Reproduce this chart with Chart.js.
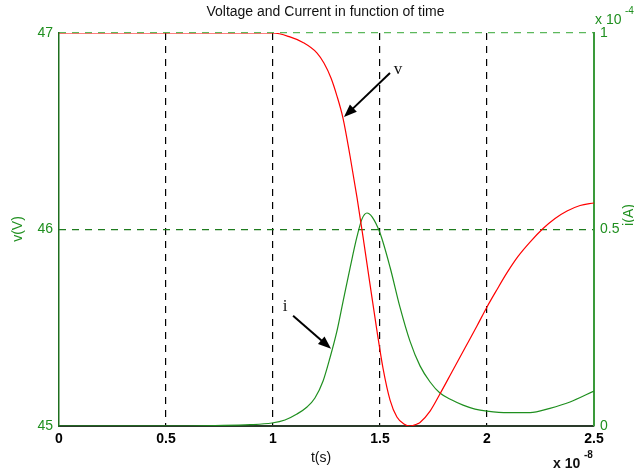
<!DOCTYPE html>
<html>
<head>
<meta charset="utf-8">
<script src="https://cdn.jsdelivr.net/npm/chart.js@4.4.0/dist/chart.umd.min.js"></script>
<style>
  body { margin: 0; background: #fff; }
</style>
</head>
<body>
<canvas id="canvas" width="634" height="472"></canvas>
<script>
// time in units of 1e-8 s (axis multiplier shown as "x 10^-8")
var voltTime = [0, 0.5, 0.9, 1.0, 1.079, 1.14, 1.206, 1.238, 1.271, 1.299, 1.327, 1.36, 1.393, 1.425, 1.453,
                1.486, 1.514, 1.547, 1.579, 1.612, 1.64, 1.673, 1.687, 1.734, 1.78, 1.836, 1.897, 1.953, 2.0,
                2.047, 2.093, 2.145, 2.201, 2.262, 2.318, 2.374, 2.435, 2.5];
// voltage v(V)
var voltData = [47, 47, 47, 47, 46.98, 46.952, 46.898, 46.847, 46.771, 46.679, 46.567, 46.374, 46.16, 45.931, 45.723,
                45.483, 45.295, 45.132, 45.046, 45.01, 45.0, 45.01, 45.018, 45.076, 45.163, 45.275, 45.397, 45.509, 45.606,
                45.695, 45.779, 45.863, 45.936, 46.005, 46.056, 46.094, 46.122, 46.135];

var currTime = [0, 0.5, 0.729, 0.893, 0.995, 1.056, 1.112, 1.159, 1.196, 1.234, 1.266, 1.299, 1.327, 1.36, 1.393,
                1.416, 1.439, 1.463, 1.5, 1.547, 1.593, 1.64, 1.687, 1.734, 1.78, 1.836, 1.888, 1.944, 2.0,
                2.098, 2.201, 2.294, 2.388, 2.5];
// current i(A) in units of 1e-4 A (axis multiplier "x 10^-4")
var currData = [0, 0, 0.0013, 0.0033, 0.0076, 0.0153, 0.0305, 0.0483, 0.0712, 0.1145, 0.173, 0.242, 0.316, 0.402, 0.483,
                0.527, 0.542, 0.532, 0.491, 0.404, 0.303, 0.216, 0.153, 0.112, 0.084, 0.066, 0.053, 0.043, 0.038,
                0.034, 0.034, 0.045, 0.061, 0.089];

var xTicks = [0, 0.5, 1, 1.5, 2, 2.5];
var vTicks = [45, 46, 47];
var iTicks = [0, 0.5, 1];

// arrow annotations: label and the time where the arrow touches its curve
var noteLabels = ["v", "i"];
var noteTimes = [1.327, 1.276];

var green = "#1f8f1f";

function points(ts, ys) {
    var out = [];
    for (var k = 0; k < ts.length; k++) out.push({x: ts[k], y: ys[k]});
    return out;
}

function valueAt(ts, ys, t) {
    for (var k = 1; k < ts.length; k++) {
        if (t <= ts[k]) {
            var f = (t - ts[k - 1]) / (ts[k] - ts[k - 1]);
            return ys[k - 1] + f * (ys[k] - ys[k - 1]);
        }
    }
    return ys[ys.length - 1];
}

function arrow(ctx, x1, y1, x2, y2) {
    var a = Math.atan2(y2 - y1, x2 - x1);
    var hl = 13, hw = 5;
    ctx.save();
    ctx.strokeStyle = "#000";
    ctx.fillStyle = "#000";
    ctx.lineWidth = 2;
    ctx.beginPath();
    ctx.moveTo(x1, y1);
    ctx.lineTo(x2 - Math.cos(a) * hl * 0.8, y2 - Math.sin(a) * hl * 0.8);
    ctx.stroke();
    ctx.beginPath();
    ctx.moveTo(x2, y2);
    ctx.lineTo(x2 - Math.cos(a) * hl + Math.sin(a) * hw, y2 - Math.sin(a) * hl - Math.cos(a) * hw);
    ctx.lineTo(x2 - Math.cos(a) * hl - Math.sin(a) * hw, y2 - Math.sin(a) * hl + Math.cos(a) * hw);
    ctx.closePath();
    ctx.fill();
    ctx.restore();
}

var textPlugin = {
    id: "textPlugin",
    afterDraw: function(chart) {
        var ctx = chart.ctx;
        var a = chart.chartArea;
        var sx = chart.scales.x, sv = chart.scales.yV, si = chart.scales.yI;
        ctx.save();
        ctx.textAlign = "center";
        ctx.textBaseline = "middle";
        // title
        ctx.fillStyle = "#111";
        ctx.font = "14px 'Liberation Sans', Arial, sans-serif";
        ctx.fillText("Voltage and Current in function of time", (a.left + a.right) / 2 - 1, 12);
        // x label
        ctx.fillText("t(s)", 321, 458);
        // x multiplier
        ctx.textAlign = "left";
        ctx.font = "bold 14px 'Liberation Sans', Arial, sans-serif";
        ctx.fillText("x 10", 553, 464);
        ctx.font = "bold 10px 'Liberation Sans', Arial, sans-serif";
        ctx.fillText("-8", 584, 455);
        // right multiplier
        ctx.fillStyle = green;
        ctx.font = "14px 'Liberation Sans', Arial, sans-serif";
        ctx.fillText("x 10", 595, 20);
        ctx.font = "10px 'Liberation Sans', Arial, sans-serif";
        ctx.fillText("-4", 625, 11);
        // y labels
        ctx.font = "14px 'Liberation Sans', Arial, sans-serif";
        ctx.textAlign = "center";
        ctx.save();
        ctx.translate(18, 229);
        ctx.rotate(-Math.PI / 2);
        ctx.fillText("v(V)", 0, 0);
        ctx.restore();
        ctx.save();
        ctx.translate(629, 215);
        ctx.rotate(-Math.PI / 2);
        ctx.fillText("i(A)", 0, 0);
        ctx.restore();

        // annotations
        var vx = sx.getPixelForValue(noteTimes[0]);
        var vy = sv.getPixelForValue(valueAt(voltTime, voltData, noteTimes[0]));
        arrow(ctx, vx + 47, vy - 45, vx + 1, vy - 1);
        var ix = sx.getPixelForValue(noteTimes[1]);
        var iy = si.getPixelForValue(valueAt(currTime, currData, noteTimes[1]));
        arrow(ctx, ix - 39, iy - 34, ix - 1, iy - 1);
        ctx.fillStyle = "#111";
        ctx.font = "17px 'Liberation Serif', 'Times New Roman', serif";
        ctx.fillText(noteLabels[0], vx + 55, vy - 49);
        ctx.fillText(noteLabels[1], ix - 47, iy - 43);
        ctx.restore();
    }
};

function plainTick(v) { return String(v); }

var ctx = document.getElementById("canvas").getContext("2d");
var chart = new Chart(ctx, {
    type: "line",
    data: {
        datasets: [
            {
                label: "v",
                data: points(voltTime, voltData),
                yAxisID: "yV",
                borderColor: "#ff0000",
                borderWidth: 1.2,
                pointRadius: 0,
                cubicInterpolationMode: "monotone",
                fill: false
            },
            {
                label: "i",
                data: points(currTime, currData),
                yAxisID: "yI",
                borderColor: "#1f8f1f",
                borderWidth: 1.2,
                pointRadius: 0,
                cubicInterpolationMode: "monotone",
                fill: false
            }
        ]
    },
    plugins: [textPlugin],
    options: {
        responsive: false,
        animation: false,
        events: [],
        layout: { padding: { top: 33, left: 0, right: 0, bottom: 0 } },
        plugins: { legend: { display: false }, title: { display: false }, tooltip: { enabled: false } },
        scales: {
            x: {
                type: "linear",
                min: 0, max: 2.5,
                afterBuildTicks: function(s) { s.ticks = xTicks.map(function(v) { return {value: v}; }); },
                afterFit: function(s) { s.height = 46; },
                ticks: {
                    color: "#000",
                    padding: 5,
                    maxRotation: 0,
                    callback: plainTick,
                    font: { family: "'Liberation Sans', Arial, sans-serif", size: 14, weight: "bold" }
                },
                grid: {
                    drawTicks: false,
                    lineWidth: 1.2,
                    color: function(c) {
                        return (c.tick && (c.tick.value === 0 || c.tick.value === 2.5)) ? "rgba(0,0,0,0)" : "#000";
                    }
                },
                border: { display: true, color: "#2a3a2a", width: 2, dash: [7, 6] }
            },
            yV: {
                type: "linear",
                position: "left",
                min: 45, max: 47,
                afterBuildTicks: function(s) { s.ticks = vTicks.map(function(v) { return {value: v}; }); },
                afterFit: function(s) { s.width = 59; },
                ticks: {
                    color: green,
                    padding: 6,
                    callback: plainTick,
                    font: { family: "'Liberation Sans', Arial, sans-serif", size: 14 }
                },
                grid: { display: false, drawTicks: false },
                border: { display: true, color: "#1e6e1e", width: 1.5 }
            },
            yI: {
                type: "linear",
                position: "right",
                min: 0, max: 1,
                afterBuildTicks: function(s) { s.ticks = iTicks.map(function(v) { return {value: v}; }); },
                afterFit: function(s) { s.width = 40; },
                ticks: {
                    color: green,
                    padding: 6,
                    callback: plainTick,
                    font: { family: "'Liberation Sans', Arial, sans-serif", size: 14 }
                },
                grid: {
                    drawTicks: false,
                    lineWidth: 1.2,
                    color: function(c) {
                        if (!c.tick || c.tick.value === 0) return "rgba(0,0,0,0)";
                        return c.tick.value === 1 ? "#5cb85c" : "#1e7b1e";
                    }
                },
                border: { display: true, color: "#3a9a3a", width: 2, dash: [7, 6] }
            }
        }
    }
});
</script>
</body>
</html>
